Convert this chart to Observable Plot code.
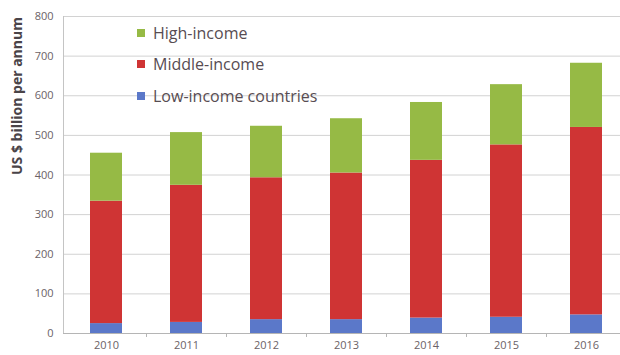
<!DOCTYPE html>
<html>
<head>
<meta charset="utf-8">
<script src="https://cdn.jsdelivr.net/npm/d3@7"></script>
<script src="https://cdn.jsdelivr.net/npm/@observablehq/plot@0.6"></script>
<style>
  html, body { margin: 0; padding: 0; background: #fff; }
  #wrap { position: relative; width: 620px; height: 355px; font-family: "Open Sans", sans-serif; }
  #legend { position: absolute; left: 137px; top: 17px; }
  .li { display: flex; align-items: center; height: 31.5px; font-size: 16px; color: #574c52; }
  .sw { width: 8px; height: 8px; margin-right: 8px; }
</style>
</head>
<body>
<div id="wrap"></div>
<script>
const years = ["2010", "2011", "2012", "2013", "2014", "2015", "2016"];
const seriesNames = ["Low-income countries", "Middle-income", "High-income"];
const legendOrder = ["High-income", "Middle-income", "Low-income countries"];
const colors = ["#5b78c9", "#cf3434", "#96ba45"];
const low = [25, 28, 35, 35, 39, 41, 47];
const middle = [309, 346, 358, 370, 398, 435, 473];
const high = [121, 133, 130, 137, 146, 152, 162];
const yTicks = [0, 100, 200, 300, 400, 500, 600, 700, 800];

const seriesValues = [low, middle, high];
const data = [];
seriesNames.forEach((s, si) => {
  years.forEach((y, yi) => data.push({year: y, series: s, value: seriesValues[si][yi]}));
});

const chart = Plot.plot({
  width: 620,
  height: 355,
  marginTop: 16,
  marginBottom: 22,
  marginLeft: 63,
  marginRight: 0,
  style: {fontFamily: "Open Sans, sans-serif", color: "#6b6266", background: "#fff", overflow: "hidden"},
  x: {domain: years, range: [66, 626], paddingInner: 0.6, paddingOuter: 0.3, label: null},
  y: {domain: [0, 800], ticks: yTicks, label: null},
  color: {domain: seriesNames, range: colors},
  marks: [
    Plot.gridY(yTicks, {stroke: "#d2d2d2", strokeOpacity: 1}),
    Plot.frame({anchor: "left", stroke: "#c4c4c4"}),
    Plot.barY(data, {x: "year", y: "value", fill: "series", order: seriesNames}),
    Plot.ruleY([0], {stroke: "#b5b5b5"}),
    Plot.ruleX(years.slice(1), {x: d => d, dx: -40, y1: 0, y2: -10, stroke: "#b5b5b5"}),
    Plot.axisY({ticks: yTicks, tickSize: 0, tickPadding: 10, fontSize: 11, fill: "#6b6266", label: null}),
    Plot.axisX({tickSize: 0, tickPadding: 8, fontSize: 11, fill: "#6b6266", label: null}),
    Plot.text(["US $ billion per annum"], {frameAnchor: "left", rotate: -90, dx: -46, fontSize: 14, fontWeight: "bold", fill: "#4a4448"})
  ]
});
chart.style.position = "absolute";
chart.style.left = "0";
chart.style.top = "0";
const wrap = document.getElementById("wrap");
wrap.appendChild(chart);

const legend = document.createElement("div");
legend.id = "legend";
legendOrder.forEach(name => {
  const row = document.createElement("div");
  row.className = "li";
  const sw = document.createElement("span");
  sw.className = "sw";
  sw.style.background = colors[seriesNames.indexOf(name)];
  row.appendChild(sw);
  row.appendChild(document.createTextNode(name));
  legend.appendChild(row);
});
wrap.appendChild(legend);
</script>
</body>
</html>
